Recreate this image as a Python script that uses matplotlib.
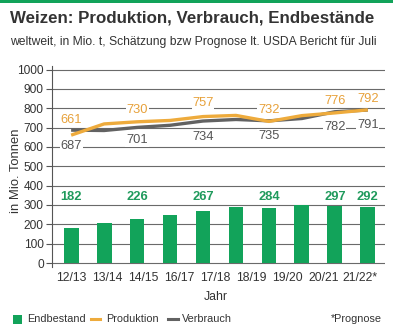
import numpy as np
import matplotlib
matplotlib.use("Agg")
import matplotlib.pyplot as plt
from matplotlib.patches import Rectangle
from matplotlib.lines import Line2D

plt.rcParams['font.family'] = ['Liberation Sans', 'DejaVu Sans']

# Wheat balance, million tonnes
seasons = ["12/13", "13/14", "14/15", "15/16", "16/17", "17/18", "18/19", "19/20", "20/21", "21/22"]
endbestand = [182, 205, 226, 248, 267, 288, 284, 300, 297, 292]
produktion = [661, 719, 730, 737, 757, 763, 732, 762, 776, 792]
verbrauch = [687, 685, 701, 712, 734, 742, 735, 747, 782, 791]

# Seasons that carry value labels
labelled = [0, 2, 4, 6, 8, 9]

# Axis tick labels as printed
tick_labels = ["12/13", "13/14", "14/15", "16/17", "17/18", "18/19", "19/20", "20/21", "21/22*"]
yticks = [0, 100, 200, 300, 400, 500, 600, 700, 800, 900, 1000]

GREEN = "#12a35a"
GREEN_TXT = "#1f9a5c"
ORANGE = "#eeab3c"
ORANGE_TXT = "#e7a13a"
GRAY = "#626262"
GRAY_TXT = "#555555"
DARK = "#333333"

fig = plt.figure(figsize=(3.93, 3.36), dpi=100)
fig.patch.set_facecolor("white")

# green rule along the top edge
fig.add_artist(Rectangle((0, 1 - 3 / 336), 1, 3 / 336, transform=fig.transFigure,
                         facecolor=GREEN, edgecolor="none"))

fig.text(10 / 393, 1 - 18 / 336, "Weizen: Produktion, Verbrauch, Endbestände",
         fontsize=12.2, fontweight="bold", color=DARK, va="center", ha="left")
fig.text(10 / 393, 1 - 42.5 / 336,
         "weltweit, in Mio. t, Schätzung bzw Prognose lt. USDA Bericht für Juli",
         fontsize=8.7, color=DARK, va="center", ha="left")

ax = fig.add_axes([52 / 393, (336 - 266.9) / 336, (385 - 52) / 393, 201.2 / 336])
x = np.arange(len(seasons))

ax.set_xlim(-0.58, 9.52)
ax.set_ylim(-20, 1020)

for y in yticks:
    ax.axhline(y, color="#6a6a6a", lw=0.8, zorder=1)

ax.bar(x, endbestand, width=0.45, color=GREEN, zorder=2)
ax.plot(x, verbrauch, color=GRAY, lw=2.4, zorder=3, solid_capstyle="butt")
ax.plot(x, produktion, color=ORANGE, lw=2.4, zorder=4, solid_capstyle="butt")

box = dict(facecolor="white", edgecolor="none", pad=0.6)
prod_label_y = [739, 791, 826, 791, 839, 848]
verb_label_y = [605, 636, 653, 657, 705, 713]
for k, i in enumerate(labelled):
    ax.text(x[i], 341, f"{endbestand[i]}", color=GREEN_TXT, fontsize=9.3,
            fontweight="bold", ha="center", va="center", zorder=5)
    ax.text(x[i], prod_label_y[k], f"{produktion[i]}", color=ORANGE_TXT, fontsize=9.3,
            ha="center", va="center", zorder=5, bbox=box)
    ax.text(x[i], verb_label_y[k], f"{verbrauch[i]}", color=GRAY_TXT, fontsize=9.3,
            ha="center", va="center", zorder=5, bbox=box)

for s in ["top", "right", "bottom"]:
    ax.spines[s].set_visible(False)
ax.spines["left"].set_color("#555555")
ax.spines["left"].set_linewidth(0.8)

ax.set_yticks(yticks)
ax.set_yticklabels([str(v) for v in yticks])
ax.tick_params(axis="y", length=4, width=0.8, color="#555555", labelsize=8.6,
               labelcolor=DARK, pad=2)

ax.set_xticks(np.linspace(0, 8.76, len(tick_labels)))
ax.set_xticklabels(tick_labels)
ax.tick_params(axis="x", length=0, labelsize=8.8, labelcolor=DARK, pad=4)

ax.set_ylabel("in Mio. Tonnen", fontsize=9.4, color=DARK, labelpad=4)
ax.yaxis.set_label_coords(-30 / 333, 0.48)
fig.text(216 / 393, 1 - 297 / 336, "Jahr", fontsize=8.8, color=DARK,
         ha="center", va="center")

# legend row
ly = 1 - 319 / 336
fig.add_artist(Rectangle((13 / 393, ly - 4.5 / 336), 9 / 393, 9 / 336,
                         transform=fig.transFigure, facecolor=GREEN, edgecolor="none"))
fig.text(27 / 393, ly, "Endbestand", fontsize=7.8, color=DARK, va="center")
fig.add_artist(Line2D([91 / 393, 100 / 393], [ly, ly], transform=fig.transFigure,
                      color=ORANGE, lw=2.2))
fig.text(106 / 393, ly, "Produktion", fontsize=7.8, color=DARK, va="center")
fig.add_artist(Line2D([168 / 393, 178 / 393], [ly, ly], transform=fig.transFigure,
                      color=GRAY, lw=2.2))
fig.text(182 / 393, ly, "Verbrauch", fontsize=7.8, color=DARK, va="center")
fig.text(382 / 393, ly, "*Prognose", fontsize=7.8, color=DARK, va="center", ha="right")

fig.savefig("out.png", dpi=100, facecolor="white")
